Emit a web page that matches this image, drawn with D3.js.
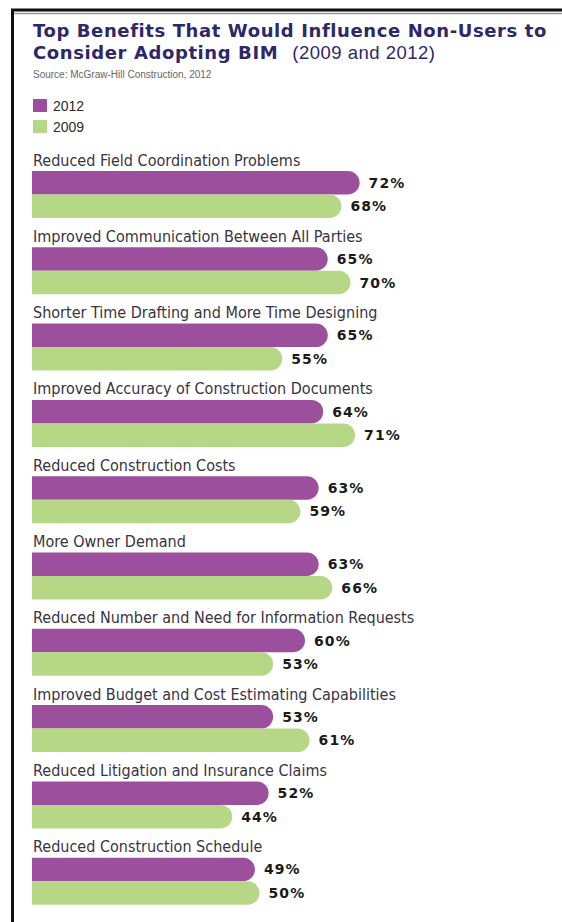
<!DOCTYPE html>
<html>
<head>
<meta charset="utf-8">
<script src="https://cdn.jsdelivr.net/npm/d3@7"></script>
<style>
  html, body { margin: 0; padding: 0; background: #fff; }
  svg { display: block; }
</style>
</head>
<body>
<svg id="chart" width="562" height="922"></svg>
<script>
// Survey results: share of non-users citing each benefit
const categories = [
  "Reduced Field Coordination Problems",
  "Improved Communication Between All Parties",
  "Shorter Time Drafting and More Time Designing",
  "Improved Accuracy of Construction Documents",
  "Reduced Construction Costs",
  "More Owner Demand",
  "Reduced Number and Need for Information Requests",
  "Improved Budget and Cost Estimating Capabilities",
  "Reduced Litigation and Insurance Claims",
  "Reduced Construction Schedule"
];
const years = ["2012", "2009"];
const values2012 = [72, 65, 65, 64, 63, 63, 60, 53, 52, 49];
const values2009 = [68, 70, 55, 71, 59, 66, 53, 61, 44, 50];
const seriesValues = { "2012": values2012, "2009": values2009 };

const titleLine1 = "Top Benefits That Would Influence Non-Users to";
const titleLine2Bold = "Consider Adopting BIM";
const titleLine2Rest = "(2009 and 2012)";
const sourceNote = "Source: McGraw-Hill Construction, 2012";

const colors = { "2012": "#9c4f9d", "2009": "#b6d886" };

const svg = d3.select("#chart");

// frame
svg.append("path")
  .attr("d", "M12.5,922 L12.5,10 L562,10")
  .attr("fill", "none").attr("stroke", "#111").attr("stroke-width", 3);
svg.append("line")
  .attr("x1", 14).attr("x2", 562).attr("y1", 13.5).attr("y2", 13.5)
  .attr("stroke", "#999").attr("stroke-width", 1.5);

// title
const titleColor = "#2d2868";
svg.append("text")
  .attr("x", 33).attr("y", 37)
  .attr("font-family", "DejaVu Sans").attr("font-weight", "bold")
  .attr("font-size", 18).attr("letter-spacing", 0.6).attr("fill", titleColor)
  .text(titleLine1);
const t2 = svg.append("text")
  .attr("x", 33).attr("y", 58.5)
  .attr("font-family", "DejaVu Sans").attr("font-size", 18).attr("fill", titleColor);
t2.append("tspan").attr("font-weight", "bold").attr("letter-spacing", 0.6).text(titleLine2Bold);
t2.append("tspan").attr("dx", 14).attr("font-family", "Liberation Sans")
  .attr("font-size", 18.5).attr("letter-spacing", 0.5).text(titleLine2Rest);

svg.append("text")
  .attr("x", 33).attr("y", 78)
  .attr("font-family", "Liberation Sans").attr("font-size", 10)
  .attr("fill", "#666")
  .text(sourceNote);

// legend
const legend = svg.append("g").selectAll("g")
  .data(years).join("g")
  .attr("transform", (d, i) => `translate(33,${99 + i * 21})`);
legend.append("rect")
  .attr("width", 14).attr("height", 13)
  .attr("fill", d => colors[d]);
legend.append("text")
  .attr("x", 20).attr("y", 11.5)
  .attr("font-family", "Liberation Sans").attr("font-size", 14)
  .attr("fill", "#2b2b33")
  .text(d => d);

// scales
const x = d3.scaleLinear().domain([0, 100]).range([32, 487]);
const yGroup = d3.scaleBand().domain(categories).range([147, 147 + 76.3 * categories.length]).padding(0);
const ySeries = d3.scaleBand().domain(years).range([24, 71]).padding(0);
const barH = ySeries.bandwidth();

const groups = svg.append("g").selectAll("g")
  .data(categories).join("g")
  .attr("transform", d => `translate(0,${yGroup(d)})`);

groups.append("text")
  .attr("x", 33).attr("y", 18.5)
  .attr("font-family", "DejaVu Sans").attr("font-stretch", "condensed")
  .attr("font-size", 16)
  .attr("fill", "#3a3340")
  .text(d => d);

// bar with a square left end and a rounded right end
function barPath(x0, x1, y0, h) {
  const r = h / 2;
  return `M${x0},${y0} H${x1 - r} A${r},${r} 0 0 1 ${x1 - r},${y0 + h} H${x0} Z`;
}

const bars = groups.selectAll("g.bar")
  .data((d, i) => years.map(yr => ({ year: yr, value: seriesValues[yr][i] })))
  .join("g").attr("class", "bar");

bars.append("path")
  .attr("d", d => barPath(x(0), x(d.value), ySeries(d.year), barH))
  .attr("fill", d => colors[d.year]);

bars.append("text")
  .attr("x", d => x(d.value) + 9)
  .attr("y", d => ySeries(d.year) + barH / 2 + 5)
  .attr("font-family", "DejaVu Sans").attr("font-weight", "bold")
  .attr("font-size", 14).attr("letter-spacing", 1.1)
  .attr("fill", "#1a1a1a")
  .text(d => d.value + "%");
</script>
</body>
</html>
